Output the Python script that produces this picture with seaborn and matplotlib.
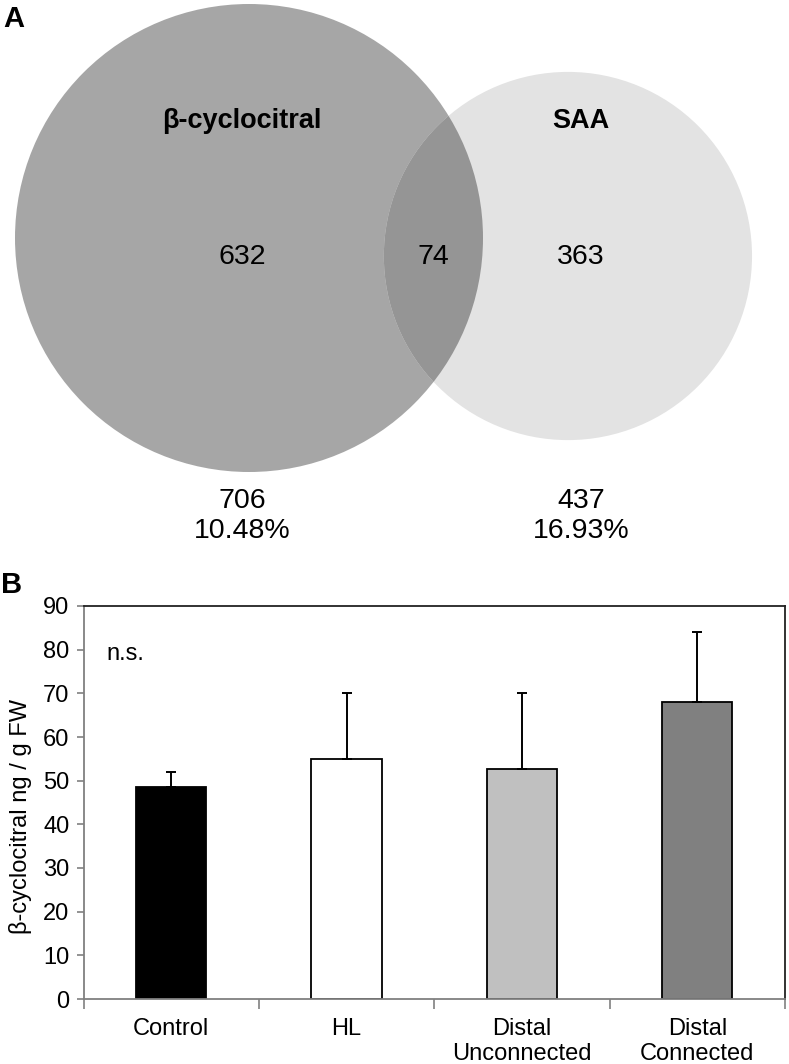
import numpy as np
import pandas as pd
import matplotlib
matplotlib.use("Agg")
import matplotlib.pyplot as plt
from matplotlib.patches import Circle
import seaborn as sns

# ---------------- data ----------------
# Panel A (Venn diagram)
set_names = ["β-cyclocitral", "SAA"]
only_counts = [632, 363]
shared_count = 74
set_totals = [706, 437]
set_percents = ["10.48%", "16.93%"]

# Panel B (bar chart)
categories = ["Control", "HL", "Distal\nUnconnected", "Distal\nConnected"]
means = [48.5, 55.0, 52.7, 68.0]
errors = [3.5, 15.0, 17.3, 16.0]
bar_colors = ["#000000", "#ffffff", "#c0c0c0", "#808080"]
yticks = [0, 10, 20, 30, 40, 50, 60, 70, 80, 90]
ylabel = "β-cyclocitral ng / g FW"

# ---------------- style ----------------
sns.set_style("white")
plt.rcParams['font.family'] = ['Liberation Sans', 'DejaVu Sans']
plt.rcParams['text.color'] = 'black'
plt.rcParams['axes.labelcolor'] = 'black'

W, H = 789, 1064
fig = plt.figure(figsize=(W / 100, H / 100), dpi=100)

# ---------------- Panel A ----------------
top_h = 560
axv = fig.add_axes([0, 1 - top_h / H, 1, top_h / H])
axv.set_xlim(0, W)
axv.set_ylim(top_h, 0)
axv.axis('off')

# area-proportional circles
k = 234 / np.sqrt(set_totals[0])
r1 = k * np.sqrt(set_totals[0])
r2 = k * np.sqrt(set_totals[1])
target = shared_count / set_totals[0] * np.pi * r1 ** 2


def lens_area(d, ra, rb):
    a = (d * d + ra * ra - rb * rb) / (2 * d)
    b = d - a
    return (ra ** 2 * np.arccos(a / ra) - a * np.sqrt(ra ** 2 - a ** 2)
            + rb ** 2 * np.arccos(b / rb) - b * np.sqrt(rb ** 2 - b ** 2))


lo, hi = r1 - r2 + 1e-6, r1 + r2 - 1e-6
for _ in range(80):
    mid = (lo + hi) / 2
    if lens_area(mid, r1, r2) > target:
        lo = mid
    else:
        hi = mid
d = (lo + hi) / 2

c1 = (249, 238)
dy = 18
c2 = (c1[0] + np.sqrt(d ** 2 - dy ** 2), c1[1] + dy)

left_c = Circle(c1, r1, facecolor="#a6a6a6", edgecolor="none")
right_c = Circle(c2, r2, facecolor="#e3e3e3", edgecolor="none")
axv.add_patch(left_c)
axv.add_patch(right_c)
lens = Circle(c2, r2, facecolor="#959595", edgecolor="none")
axv.add_patch(lens)
lens.set_clip_path(left_c)

tfs = 19.5   # bold set names
vfs = 20.5   # counts
axv.text(242, 121, set_names[0], ha='center', va='center', fontsize=tfs, fontweight='bold')
axv.text(581, 121, set_names[1], ha='center', va='center', fontsize=tfs, fontweight='bold')
axv.text(242, 257, str(only_counts[0]), ha='center', va='center', fontsize=vfs)
axv.text(433, 257, str(shared_count), ha='center', va='center', fontsize=vfs)
axv.text(581, 257, str(only_counts[1]), ha='center', va='center', fontsize=vfs)
for xpos, tot, pct in zip([242, 581], set_totals, set_percents):
    axv.text(xpos, 501, str(tot), ha='center', va='center', fontsize=vfs)
    axv.text(xpos, 531, pct, ha='center', va='center', fontsize=vfs)

fig.text(3 / W, 1 - 5 / H, "A", ha='left', va='top', fontsize=21, fontweight='bold')
fig.text(1 / W, 1 - 571 / H, "B", ha='left', va='top', fontsize=21, fontweight='bold')

# ---------------- Panel B ----------------
bfs = 17
ax = fig.add_axes([83.5 / W, 1 - 999 / H, 701.5 / W, 393 / H])
df = pd.DataFrame({"group": categories, "value": means})
sns.barplot(data=df, x="group", y="value", hue="group", palette=bar_colors,
            width=0.4, edgecolor="black", linewidth=1.3, saturation=1,
            legend=False, ax=ax)
ax.errorbar(x=np.arange(len(categories)), y=means,
            yerr=[np.zeros(len(errors)), errors], fmt='none',
            ecolor='black', elinewidth=1.4, capsize=3.8, capthick=1.4, zorder=1)

ax.set_xlim(-0.5, len(categories) - 0.5)
ax.set_ylim(0, 90)
ax.set_yticks(yticks)
ax.set_xticks(np.arange(-0.5, len(categories)), minor=True)
ax.tick_params(axis='x', which='major', length=0, pad=13.5, labelsize=bfs,
               labelcolor='black')
ax.tick_params(axis='x', which='minor', bottom=True, length=7, width=1.2,
               color='#808080', direction='out')
ax.tick_params(axis='y', left=True, length=5, width=1.2, color='#808080',
               direction='out', labelsize=bfs, pad=5, labelcolor='black')
ax.set_xlabel("")
ax.set_ylabel(ylabel, fontsize=bfs)
ax.yaxis.set_label_coords(-0.073, 0.465)

for side in ['left', 'bottom']:
    ax.spines[side].set_color('#808080')
    ax.spines[side].set_linewidth(1.3)
for side in ['top', 'right']:
    ax.spines[side].set_visible(True)
    ax.spines[side].set_color('#222222')
    ax.spines[side].set_linewidth(1.3)

ax.text(0.032, 79, "n.s.", transform=ax.get_yaxis_transform(),
        ha='left', va='center', fontsize=bfs)

fig.savefig("out.png", dpi=100)
